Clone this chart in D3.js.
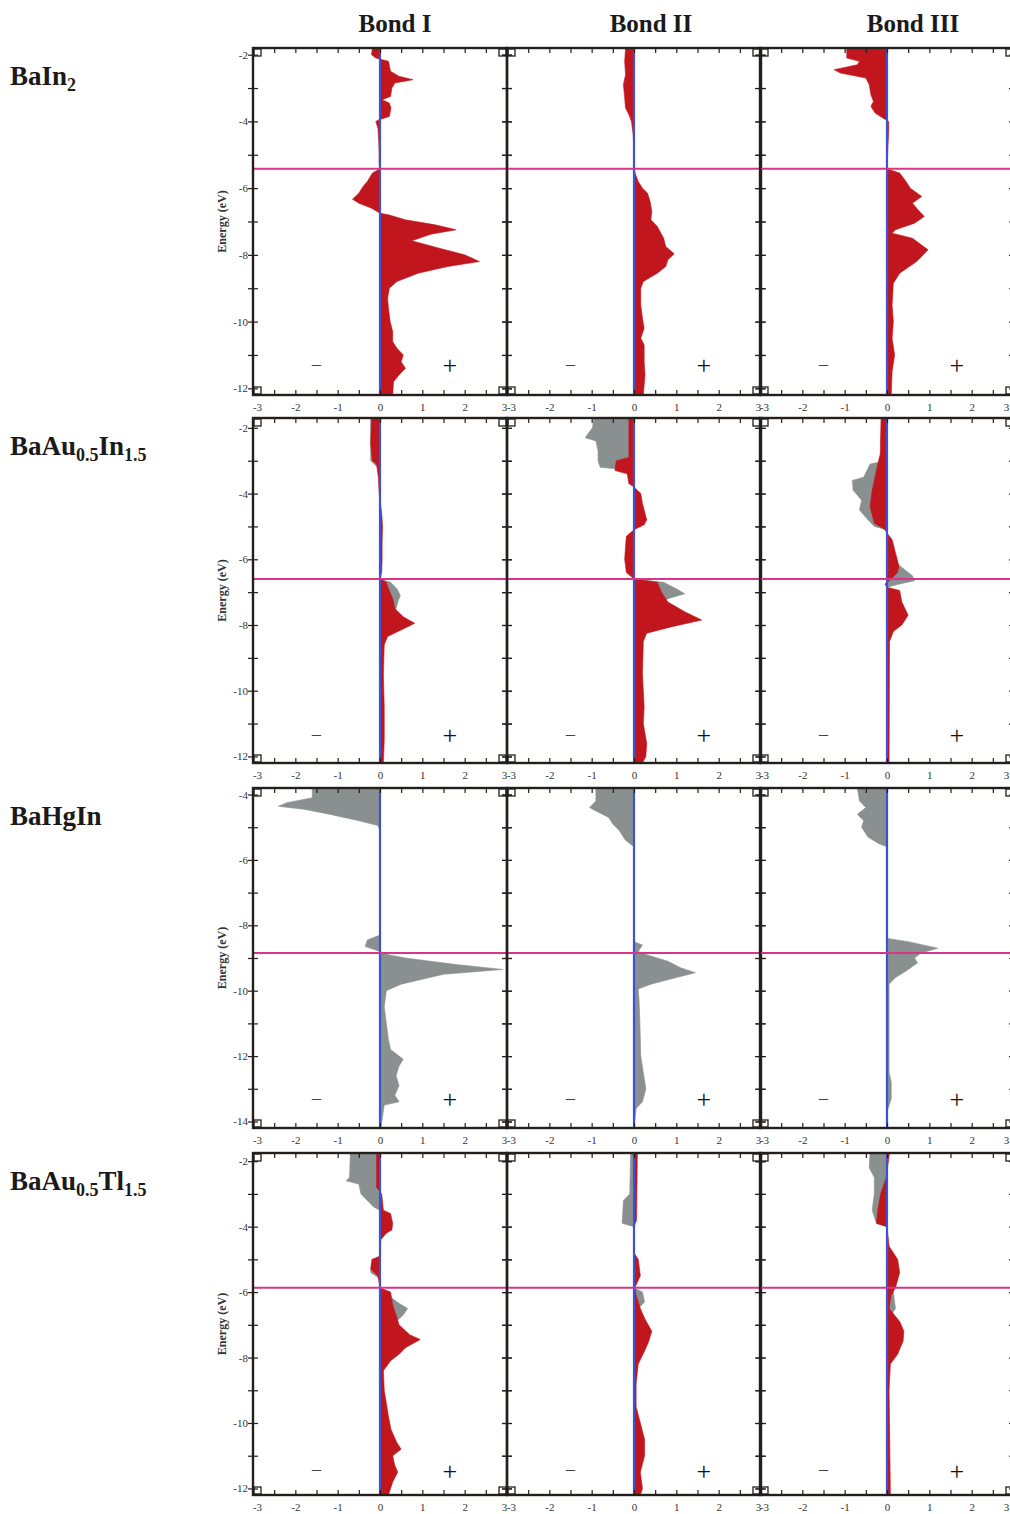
<!DOCTYPE html>
<html>
<head>
<meta charset="utf-8">
<script src="https://cdn.jsdelivr.net/npm/d3@7"></script>
<style>
  body { margin: 0; background: #fff; }
  svg { display: block; font-family: "Liberation Serif", "DejaVu Serif", serif; }
</style>
</head>
<body>
<div id="chart"></div>
<script>
'use strict';

// row labels, split into [text, isSubscript] parts
const compounds = [
  [['BaIn', 0], ['2', 1]],
  [['BaAu', 0], ['0.5', 1], ['In', 0], ['1.5', 1]],
  [['BaHgIn', 0]],
  [['BaAu', 0], ['0.5', 1], ['Tl', 0], ['1.5', 1]]
];
const bonds = ['Bond I', 'Bond II', 'Bond III'];

const energyDomains = [[-1.8, -12.2], [-1.7, -12.2], [-3.8, -14.2], [-1.75, -12.2]];
const energyTicks = [
  [-2, -4, -6, -8, -10, -12],
  [-2, -4, -6, -8, -10, -12],
  [-4, -6, -8, -10, -12, -14],
  [-2, -4, -6, -8, -10, -12]
];
const fermiLevels = [-5.42, -6.6, -8.85, -5.87];
const xTicks = [-3, -2, -1, 0, 1, 2, 3];
const signEnergy = [-11.3, -11.35, -13.3, -11.45];

// -COHP curves, [energy (eV), value], one list per bond
const baIn2Red = [
  [[-1.8,-0.18],[-2.0,-0.2],[-2.1,-0.1],[-2.2,0.2],[-2.5,0.25],[-2.65,0.45],[-2.75,0.78],[-2.85,0.35],[-3.0,0.28],[-3.25,0.25],[-3.35,0.05],[-3.45,0.22],[-3.6,0.26],[-3.85,0.22],[-3.95,-0.02],[-4.0,-0.1],[-4.2,-0.05],[-4.6,-0.03],[-5.0,-0.02],[-5.3,-0.02],[-5.42,0],[-5.55,-0.18],[-5.8,-0.3],[-5.95,-0.4],[-6.15,-0.5],[-6.33,-0.65],[-6.45,-0.5],[-6.6,-0.2],[-6.75,0],[-6.8,0.2],[-6.95,0.6],[-7.1,1.3],[-7.25,1.8],[-7.38,1.2],[-7.58,0.75],[-7.8,1.4],[-8.0,2.0],[-8.2,2.35],[-8.35,1.6],[-8.55,0.9],[-8.8,0.4],[-9.0,0.22],[-9.3,0.18],[-9.6,0.2],[-10.0,0.24],[-10.3,0.3],[-10.6,0.3],[-10.8,0.4],[-11.0,0.55],[-11.2,0.5],[-11.4,0.6],[-11.6,0.45],[-11.8,0.32],[-12.2,0.3]],
  [[-1.8,-0.2],[-2.2,-0.22],[-2.6,-0.2],[-2.9,-0.25],[-3.3,-0.22],[-3.6,-0.2],[-3.8,-0.12],[-4.0,-0.06],[-4.4,-0.02],[-5.0,0],[-5.42,0],[-5.6,0.04],[-5.8,0.1],[-6.0,0.2],[-6.15,0.32],[-6.4,0.38],[-6.7,0.42],[-6.95,0.4],[-7.15,0.55],[-7.5,0.7],[-7.75,0.75],[-7.97,0.95],[-8.15,0.8],[-8.35,0.75],[-8.55,0.55],[-8.8,0.22],[-9.0,0.16],[-9.5,0.16],[-9.9,0.2],[-10.2,0.24],[-10.5,0.16],[-10.7,0.24],[-11.2,0.24],[-11.6,0.26],[-12.2,0.22]],
  [[-1.8,-0.95],[-2.1,-0.95],[-2.2,-0.65],[-2.3,-0.7],[-2.45,-1.25],[-2.55,-1.1],[-2.7,-0.5],[-2.9,-0.42],[-3.2,-0.38],[-3.4,-0.32],[-3.55,-0.38],[-3.75,-0.28],[-3.9,-0.1],[-4.0,0.04],[-4.3,0.04],[-4.8,0.02],[-5.42,0],[-5.55,0.3],[-5.8,0.45],[-6.0,0.55],[-6.25,0.82],[-6.45,0.6],[-6.6,0.7],[-6.85,0.88],[-7.05,0.65],[-7.25,0.2],[-7.35,0.12],[-7.5,0.6],[-7.85,0.97],[-8.2,0.7],[-8.55,0.3],[-8.85,0.15],[-9.5,0.12],[-10.0,0.15],[-10.5,0.12],[-11.0,0.18],[-11.5,0.12],[-12.2,0.1]]
];
const baIn2Gray = [[], [], []];

const baAuInRed = [
  [[-1.7,-0.2],[-2.5,-0.22],[-3.0,-0.18],[-3.1,-0.08],[-3.5,-0.04],[-4.0,-0.02],[-4.6,0.04],[-5.0,0.06],[-5.5,0.05],[-6.0,0.05],[-6.4,0.04],[-6.6,0],[-6.7,0.15],[-6.9,0.2],[-7.2,0.3],[-7.5,0.35],[-7.75,0.55],[-7.95,0.82],[-8.15,0.5],[-8.35,0.18],[-8.6,0.1],[-9.5,0.08],[-10.5,0.1],[-11.5,0.1],[-12.2,0.08]],
  [[-1.7,-0.12],[-2.9,-0.12],[-3.0,-0.42],[-3.3,-0.45],[-3.4,-0.16],[-3.7,-0.12],[-3.8,0],[-4.0,0.16],[-4.3,0.2],[-4.8,0.3],[-4.95,0.24],[-5.1,0],[-5.3,-0.18],[-5.6,-0.2],[-6.0,-0.22],[-6.4,-0.18],[-6.6,0],[-6.7,0.55],[-7.0,0.65],[-7.3,0.8],[-7.6,1.2],[-7.85,1.6],[-8.05,0.9],[-8.25,0.3],[-8.5,0.22],[-9.5,0.2],[-10.5,0.24],[-11.0,0.22],[-11.6,0.3],[-12.0,0.28],[-12.2,0.2]],
  [[-1.7,-0.14],[-2.8,-0.16],[-3.0,-0.2],[-3.6,-0.3],[-3.9,-0.35],[-4.4,-0.4],[-4.9,-0.3],[-5.1,-0.05],[-5.2,0],[-5.4,0.12],[-5.8,0.2],[-6.2,0.28],[-6.4,0.25],[-6.6,0.1],[-6.75,-0.05],[-6.85,0],[-6.95,0.3],[-7.3,0.35],[-7.7,0.5],[-8.0,0.35],[-8.2,0.15],[-8.5,0.06],[-12.2,0.05]]
];
const baAuInGray = [
  [[-1.7,-0.22],[-3.0,-0.22],[-3.2,-0.06],[-3.4,0],[-6.6,0],[-6.7,0.25],[-6.9,0.4],[-7.1,0.48],[-7.3,0.42],[-7.5,0.38],[-7.6,0.3],[-7.8,0]],
  [[-1.7,-0.95],[-2.0,-0.98],[-2.2,-1.1],[-2.3,-1.15],[-2.4,-0.9],[-2.7,-0.85],[-3.0,-0.85],[-3.2,-0.8],[-3.25,-0.4],[-3.3,0],[-6.6,0],[-6.7,0.7],[-6.9,1.0],[-7.05,1.2],[-7.2,0.8],[-7.4,0.6],[-7.6,0.3],[-7.8,0]],
  [[-3.0,0],[-3.1,-0.4],[-3.5,-0.55],[-3.6,-0.82],[-3.9,-0.8],[-4.2,-0.6],[-4.5,-0.65],[-4.8,-0.45],[-5.0,-0.3],[-5.1,0],[-5.8,0],[-6.2,0.3],[-6.5,0.6],[-6.65,0.65],[-6.75,0.3],[-6.85,0]]
];

const baHgInRed = [[], [], []];
const baHgInGray = [
  [[-3.8,-1.6],[-4.1,-1.6],[-4.25,-2.2],[-4.36,-2.4],[-4.45,-1.8],[-4.6,-1.2],[-4.8,-0.5],[-4.95,-0.05],[-5.1,0],[-8.3,0],[-8.45,-0.3],[-8.65,-0.35],[-8.8,0],[-8.9,0.2],[-9.0,0.6],[-9.2,1.8],[-9.35,2.9],[-9.5,1.5],[-9.8,0.5],[-10.0,0.15],[-10.5,0.1],[-11.0,0.15],[-11.5,0.2],[-11.8,0.25],[-12.1,0.55],[-12.3,0.45],[-12.6,0.38],[-12.9,0.45],[-13.2,0.35],[-13.4,0.45],[-13.5,0.1],[-14.2,0.02]],
  [[-3.8,-0.9],[-4.2,-0.9],[-4.4,-1.05],[-4.5,-0.9],[-4.7,-0.6],[-4.9,-0.5],[-5.1,-0.35],[-5.4,-0.2],[-5.6,0],[-8.5,0],[-8.6,0.2],[-8.8,0.1],[-8.9,0.3],[-9.1,0.8],[-9.3,1.1],[-9.45,1.45],[-9.6,1.0],[-9.8,0.4],[-9.95,0.1],[-10.3,0.12],[-11.0,0.14],[-12.0,0.16],[-12.5,0.22],[-13.0,0.28],[-13.4,0.2],[-13.6,0.05],[-14.2,0]],
  [[-3.8,-0.7],[-4.2,-0.65],[-4.4,-0.5],[-4.6,-0.7],[-4.8,-0.55],[-5.0,-0.6],[-5.3,-0.45],[-5.5,-0.2],[-5.6,0],[-8.4,0],[-8.5,0.5],[-8.7,1.2],[-8.85,0.8],[-9.0,0.65],[-9.15,0.72],[-9.4,0.45],[-9.6,0.2],[-9.8,0.05],[-12.5,0.05],[-12.8,0.1],[-13.3,0.1],[-13.6,0.03]]
];

const baAuTlRed = [
  [[-1.75,-0.08],[-2.8,-0.08],[-3.0,0.04],[-3.5,0.08],[-3.6,0.25],[-3.9,0.3],[-4.1,0.28],[-4.2,0.15],[-4.4,0.02],[-4.9,0],[-5.0,-0.18],[-5.3,-0.22],[-5.5,-0.05],[-5.87,0],[-6.0,0.25],[-6.4,0.3],[-6.7,0.38],[-7.0,0.45],[-7.3,0.7],[-7.45,0.95],[-7.7,0.6],[-7.9,0.45],[-8.1,0.25],[-8.4,0.08],[-9.0,0.1],[-9.4,0.15],[-9.8,0.2],[-10.2,0.26],[-10.6,0.4],[-10.8,0.5],[-11.0,0.3],[-11.3,0.35],[-11.5,0.42],[-11.8,0.3],[-12.2,0.2]],
  [[-1.75,0.08],[-3.8,0.06],[-4.0,0],[-4.8,0],[-5.0,0.1],[-5.5,0.15],[-5.87,0.02],[-6.1,0.05],[-6.5,0.15],[-6.8,0.25],[-7.2,0.42],[-7.5,0.35],[-7.8,0.25],[-8.2,0.1],[-8.8,0.05],[-9.5,0.05],[-10.0,0.15],[-10.5,0.25],[-11.0,0.25],[-11.5,0.15],[-12.0,0.2],[-12.2,0.15]],
  [[-1.75,0.06],[-2.5,-0.02],[-3.0,-0.15],[-3.5,-0.22],[-3.9,-0.25],[-4.0,0],[-4.6,0.05],[-5.0,0.25],[-5.4,0.3],[-5.87,0.2],[-6.1,0.1],[-6.5,0.05],[-6.9,0.3],[-7.2,0.4],[-7.5,0.38],[-7.9,0.25],[-8.2,0.08],[-9.0,0.05],[-12.2,0.08]]
];
const baAuTlGray = [
  [[-1.75,-0.7],[-2.5,-0.72],[-2.6,-0.8],[-2.7,-0.5],[-3.0,-0.45],[-3.2,-0.3],[-3.4,-0.15],[-3.5,0],[-4.95,0],[-5.0,-0.2],[-5.4,-0.22],[-5.6,0],[-5.87,0],[-6.3,0.4],[-6.5,0.65],[-6.7,0.55],[-7.0,0.3],[-7.2,0]],
  [[-1.75,-0.08],[-3.0,-0.1],[-3.2,-0.25],[-3.9,-0.28],[-4.0,0],[-5.87,0],[-6.0,0.2],[-6.3,0.25],[-6.5,0.1],[-6.6,0]],
  [[-1.75,-0.4],[-2.2,-0.42],[-2.5,-0.3],[-3.0,-0.3],[-3.5,-0.35],[-3.9,-0.25],[-4.0,0],[-5.87,0],[-6.0,0.15],[-6.5,0.2],[-6.8,0.05],[-7.0,0]]
];

const redRows = [baIn2Red, baAuInRed, baHgInRed, baAuTlRed];
const grayRows = [baIn2Gray, baAuInGray, baHgInGray, baAuTlGray];

// layout
const W = 1010, H = 1514;
const rowTop = [48, 418, 788, 1153];
const rowBottom = [395, 763, 1128, 1495];
const colLeft = [253, 507, 760];
const colW = 254;
const titleShift = [15, 17, 26];

const frameColor = '#231f1c';
const red = '#c1161d';
const gray = '#8a8f90';
const blue = '#3b52d2';
const pink = '#d8348a';

const svg = d3.select('#chart').append('svg')
  .attr('width', W)
  .attr('height', H);

const fmt = d => String(d);

// column titles
svg.append('g').selectAll('text')
  .data(bonds)
  .enter()
  .append('text')
  .attr('x', (d, i) => colLeft[i] + colW / 2 + titleShift[i])
  .attr('y', 32)
  .attr('text-anchor', 'middle')
  .attr('font-size', 25)
  .attr('font-weight', 'bold')
  .attr('fill', '#1a1a1a')
  .text(d => d);

compounds.forEach((parts, r) => {
  const top = rowTop[r], bottom = rowBottom[r];
  const y = d3.scaleLinear().domain(energyDomains[r]).range([top, bottom]);

  // compound name with subscripts
  const label = svg.append('text')
    .attr('x', 10)
    .attr('y', top + 37)
    .attr('font-size', 27)
    .attr('font-weight', 'bold')
    .attr('fill', '#1a1a1a');
  let shifted = false;
  parts.forEach(([t, sub]) => {
    const dy = sub ? (shifted ? 0 : 6) : (shifted ? -6 : 0);
    shifted = !!sub;
    label.append('tspan')
      .attr('dy', dy)
      .attr('font-size', sub ? 18 : 27)
      .text(t);
  });

  // Energy axis title
  svg.append('text')
    .attr('transform', `translate(226, ${(top + bottom) / 2}) rotate(-90)`)
    .attr('text-anchor', 'middle')
    .attr('font-size', 12)
    .attr('font-weight', 'bold')
    .attr('fill', '#333')
    .text('Energy (eV)');

  bonds.forEach((b, c) => {
    const left = colLeft[c];
    const x = d3.scaleLinear().domain([-3, 3]).range([left, left + colW]);
    const g = svg.append('g');

    const clipId = `clip-${r}-${c}`;
    g.append('clipPath').attr('id', clipId)
      .append('rect')
      .attr('x', left).attr('y', top)
      .attr('width', colW).attr('height', bottom - top);

    const area = d3.area()
      .y(d => y(d[0]))
      .x0(x(0))
      .x1(d => x(d[1]));

    const plot = g.append('g').attr('clip-path', `url(#${clipId})`);
    [[grayRows[r][c], gray], [redRows[r][c], red]].forEach(([pts, col]) => {
      if (!pts.length) return;
      plot.append('path')
        .datum(pts)
        .attr('d', area)
        .attr('fill', col)
        .attr('stroke', col)
        .attr('stroke-width', 0.6);
    });

    // zero line
    plot.append('line')
      .attr('x1', x(0)).attr('x2', x(0))
      .attr('y1', top).attr('y2', bottom)
      .attr('stroke', blue)
      .attr('stroke-width', 2.2);

    // Fermi level
    plot.append('line')
      .attr('x1', left).attr('x2', left + colW)
      .attr('y1', y(fermiLevels[r])).attr('y2', y(fermiLevels[r]))
      .attr('stroke', pink)
      .attr('stroke-width', 2);

    // bonding / antibonding signs
    g.append('text')
      .attr('x', x(-1.5)).attr('y', y(signEnergy[r]))
      .attr('dy', '0.35em')
      .attr('text-anchor', 'middle')
      .attr('font-size', 20)
      .attr('fill', '#444')
      .text('\u2212');
    g.append('text')
      .attr('x', x(1.65)).attr('y', y(signEnergy[r]))
      .attr('dy', '0.35em')
      .attr('text-anchor', 'middle')
      .attr('font-size', 26)
      .attr('fill', '#111')
      .text('+');

    // inward ticks on top and bottom
    const halfSteps = d3.range(-3, 3.01, 0.5);
    g.append('g')
      .attr('transform', `translate(0, ${top})`)
      .call(d3.axisTop(x).tickValues(halfSteps).tickSize(-5).tickFormat(''))
      .call(a => a.select('.domain').remove());
    g.append('g')
      .attr('transform', `translate(0, ${bottom})`)
      .call(d3.axisBottom(x).tickValues(halfSteps).tickSize(-5).tickFormat(''))
      .call(a => a.select('.domain').remove());

    // energy ticks as crosses on the left and right frames
    const eSteps = d3.range(Math.ceil(energyDomains[r][1]), Math.floor(energyDomains[r][0]) + 1, 1);
    [left, left + colW].forEach(px => {
      g.append('g')
        .attr('transform', `translate(${px}, 0)`)
        .call(d3.axisLeft(y).tickValues(eSteps).tickSize(5).tickFormat(''))
        .call(a => a.select('.domain').remove());
      g.append('g')
        .attr('transform', `translate(${px}, 0)`)
        .call(d3.axisRight(y).tickValues(eSteps).tickSize(5).tickFormat(''))
        .call(a => a.select('.domain').remove());
    });
    g.selectAll('.tick line').attr('stroke', frameColor).attr('stroke-width', 1.2);

    // x tick labels under the panel
    const lastShift = c === 2 ? -8 : -3;
    g.append('g')
      .attr('transform', `translate(0, ${bottom})`)
      .call(d3.axisBottom(x).tickValues(xTicks).tickSize(0).tickPadding(8).tickFormat(fmt))
      .call(a => a.select('.domain').remove())
      .call(a => a.selectAll('text')
        .attr('font-size', 11)
        .attr('font-family', '"Liberation Serif", serif')
        .attr('fill', '#333')
        .attr('dx', d => d === -3 ? 4 : (d === 3 ? lastShift : 0)));

    // energy labels on the first column only
    if (c === 0) {
      g.append('g')
        .attr('transform', `translate(${left}, 0)`)
        .call(d3.axisLeft(y).tickValues(energyTicks[r]).tickSize(0).tickPadding(5).tickFormat(fmt))
        .call(a => a.select('.domain').remove())
        .call(a => a.selectAll('text')
          .attr('font-size', 11)
          .attr('font-family', '"Liberation Serif", serif')
          .attr('fill', '#333'));
    }

    // frame
    g.append('rect')
      .attr('x', left).attr('y', top)
      .attr('width', colW).attr('height', bottom - top)
      .attr('fill', 'none')
      .attr('stroke', frameColor)
      .attr('stroke-width', 2.4);

    // little corner squares (Origin layer markers)
    const sq = 7;
    [[left + 1, top + 1], [left + 1, bottom - sq - 1], [left + colW - sq - 1, top + 1], [left + colW - sq - 1, bottom - sq - 1]]
      .forEach(([sx, sy]) => {
        g.append('rect')
          .attr('x', sx).attr('y', sy)
          .attr('width', sq).attr('height', sq)
          .attr('fill', 'none')
          .attr('stroke', frameColor)
          .attr('stroke-width', 1.3);
      });
  });
});
</script>
</body>
</html>
